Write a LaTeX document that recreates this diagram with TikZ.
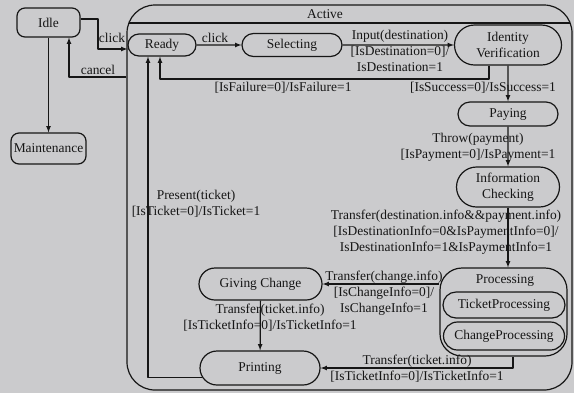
\documentclass[tikz,border=0pt]{standalone}
\usepackage{fontspec}
\setmainfont{Liberation Serif}
\usetikzlibrary{shapes.misc}
\definecolor{scangray}{RGB}{203,203,205}
\definecolor{inkgray}{RGB}{22,22,22}

\begin{document}
\begin{tikzpicture}[>=latex,line join=bevel,x=1bp,y=-1bp,
  every node/.style={font=\fontsize{13.5}{16}\selectfont,text=inkgray},
  state/.style={draw=inkgray,line width=1.2bp,rounded rectangle,fill=scangray,inner sep=0pt},
  plainstate/.style={draw=inkgray,line width=1.2bp,rounded corners=8bp,fill=scangray,inner sep=0pt},
  superstate/.style={draw=inkgray,line width=1.2bp,fill=scangray,inner sep=0pt},
  guard/.style={align=center,inner sep=0pt},
  trans/.style={inkgray,line width=1.2bp,->}]
%%
\fill [scangray] (0,0) rectangle (574,393);
\useasboundingbox (0,0) rectangle (574,393);
\node (node_active) at (349.5,197.5) [superstate,rounded corners=28bp,minimum width=445bp,minimum height=385bp] {};
  \node (node_active_title) at (325,14) {Active};
  \draw [inkgray,line width=1.2bp] (129,23) -- (570,23);
\node (node_processing) at (503.5,312) [superstate,rounded corners=22bp,minimum width=127bp,minimum height=88bp] {};
  \node (node_processing_title) at (505,280) {Processing};
%
\node (node_idle) at (48.5,22.5) [plainstate,minimum width=63bp,minimum height=29bp] {Idle};
  \node (node_maint) at (48.5,148.5) [plainstate,minimum width=75bp,minimum height=31bp] {Maintenance};
  \node (node_ready) at (162,45) [state,minimum width=68bp,minimum height=22bp] {Ready};
  \node (node_selecting) at (292,45) [state,minimum width=100bp,minimum height=23bp] {Selecting};
  \node (node_iv) at (508,45) [state,align=center,minimum width=107bp,minimum height=40bp] {Identity\\Verification};
  \node (node_paying) at (508,114) [state,minimum width=100bp,minimum height=24bp] {Paying};
  \node (node_ic) at (508,187) [state,align=center,minimum width=103bp,minimum height=40bp] {Information\\Checking};
  \node (node_ticketproc) at (504,305) [state,minimum width=122bp,minimum height=26bp] {TicketProcessing};
  \node (node_changeproc) at (504,336) [state,minimum width=121bp,minimum height=28bp] {ChangeProcessing};
  \node (node_giving) at (260.5,284) [state,minimum width=123bp,minimum height=32bp] {Giving Change};
  \node (node_printing) at (260,368) [state,minimum width=120bp,minimum height=34bp] {Printing};
%
\node (lbl_click_a) at (112,38) [guard] {click};
  \node (lbl_cancel) at (98,70) [guard] {cancel};
  \node (lbl_click_b) at (215,38) [guard] {click};
  \node (lbl_input) at (400,51) [guard] {Input(destination)\\{}[IsDestination=0]/\\IsDestination=1};
  \node (lbl_failure) at (283,88) [guard] {[IsFailure=0]/IsFailure=1};
  \node (lbl_success) at (483,88) [guard] {[IsSuccess=0]/IsSuccess=1};
  \node (lbl_throw) at (478,147.5) [guard] {Throw(payment)\\{}[IsPayment=0]/IsPayment=1};
  \node (lbl_transfer_info) at (446,232.5) [guard] {Transfer(destination.info\&\&payment.info)\\{}[IsDestinationInfo=0\&IsPaymentInfo=0]/\\IsDestinationInfo=1\&IsPaymentInfo=1};
  \node (lbl_transfer_change) at (384,293) [guard] {Transfer(change.info)\\{}[IsChangeInfo=0]/\\IsChangeInfo=1};
  \node (lbl_transfer_ticket_a) at (270,317.5) [guard] {Transfer(ticket.info)\\{}[IsTicketInfo=0]/IsTicketInfo=1};
  \node (lbl_transfer_ticket_b) at (417,369) [guard] {Transfer(ticket.info)\\{}[IsTicketInfo=0]/IsTicketInfo=1};
  \node (lbl_present) at (196,203.5) [guard] {Present(ticket)\\{}[IsTicket=0]/IsTicket=1};
%
\draw [trans] (node_idle.east |- 0,19) -| (98,49) -- (node_ready.west |- 0,49);
  \draw [trans] (node_active.west |- 0,77) -| (node_idle.south -| 69,0);
  \draw [trans] (node_idle.south) -- (node_maint.north);
  \draw [trans] (node_ready) -- (node_selecting);
  \draw [trans] (node_selecting) -- (node_iv);
  \draw [trans] (node_iv.south -| 489,0) |- (160,79) -- (node_ready.south -| 160,0);
  \draw [trans] (node_iv) -- (node_paying);
  \draw [trans] (node_paying) -- (node_ic);
  \draw [trans] (node_ic.south) -- (node_processing.north -| node_ic.south);
  \draw [trans] (node_processing.west |- node_giving.east) -- (node_giving.east);
  \draw [trans] (node_giving) -- (node_printing);
  \draw [trans] (node_processing.south -| 513,0) |- (node_printing.east);
  \draw [trans] (node_printing.189) -| (node_ready.south -| 148,0);
%
\end{tikzpicture}
\end{document}
